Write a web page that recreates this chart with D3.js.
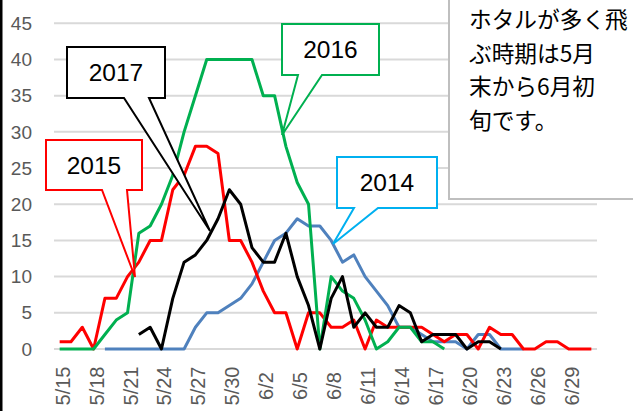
<!DOCTYPE html>
<html lang="ja">
	<head>
		<meta charset="utf-8">
		<title>ホタル</title>
		<script type="text/javascript" src="https://cdn.jsdelivr.net/npm/d3@7"></script>
		<style type="text/css">
			html, body {
				margin: 0;
				padding: 0;
				background-color: white;
			}
			svg text {
				font-family: "Liberation Sans", Arial, sans-serif;
			}
		</style>
	</head>
	<body>
		<script type="text/javascript">

			var w = 633;
			var h = 411;

			// dates 5/15 .. 7/1
			var dates = ["5/15","5/16","5/17","5/18","5/19","5/20","5/21","5/22","5/23","5/24",
				"5/25","5/26","5/27","5/28","5/29","5/30","5/31","6/1","6/2","6/3",
				"6/4","6/5","6/6","6/7","6/8","6/9","6/10","6/11","6/12","6/13",
				"6/14","6/15","6/16","6/17","6/18","6/19","6/20","6/21","6/22","6/23",
				"6/24","6/25","6/26","6/27","6/28","6/29","6/30","7/1"];

			var yTicks = [0, 5, 10, 15, 20, 25, 30, 35, 40, 45];

			var s2014 = [null,null,null,null,0,0,0,0,0,0,
				0,0,3,5,5,6,7,9,12,15,
				16,18,17,17,15,12,13,10,8,6,
				3,3,2,1,1,1,0,2,2,0,
				0,0,null,null,null,null,null,null];

			var s2015 = [1,1,3,0,7,7,10,12,15,15,
				22,24,28,28,27,15,15,12,8,5,
				5,0,5,5,3,3,4,0,4,3,
				3,3,3,2,1,2,2,0,3,2,
				2,0,0,1,1,0,0,0];

			var s2016 = [0,0,0,0,2,4,5,16,17,20,
				24,30,35,40,40,40,40,40,35,35,
				28,23,20,0,10,8,7,4,0,1,
				3,3,1,1,0,null,null,null,null,null,
				null,null,null,null,null,null,null,null];

			var s2017 = [null,null,null,null,null,null,null,2,3,0,
				7,12,13,15,18,22,20,14,12,12,
				16,10,6,0,7,10,3,5,3,3,
				6,5,1,2,2,2,0,1,1,0,
				null,null,null,null,null,null,null,null];

			var series = [
				{name: "2014", values: s2014, color: "#4f81bd"},
				{name: "2015", values: s2015, color: "#ff0000"},
				{name: "2016", values: s2016, color: "#00b050"},
				{name: "2017", values: s2017, color: "#000000"}
			];

			var noteLines = ["ホタルが多く飛", "ぶ時期は5月", "末から6月初", "旬です。"];

			var plotLeft = 54, plotRight = 597, plotTop = 23.3, plotBottom = 349;

			var svg = d3.select("body")
						.append("svg")
						.attr("width", w)
						.attr("height", h);

			var xScale = d3.scaleBand()
							.domain(dates)
							.range([plotLeft, plotRight])
							.padding(0);

			var yScale = d3.scaleLinear()
							.domain([0, 45])
							.range([plotBottom, plotTop]);

			function cx(d) {
				return xScale(d) + xScale.bandwidth() / 2;
			}

			//gridlines
			svg.append("g")
				.selectAll("line")
				.data(yTicks)
				.enter()
				.append("line")
				.attr("x1", plotLeft)
				.attr("x2", plotRight)
				.attr("y1", function(d) { return yScale(d); })
				.attr("y2", function(d) { return yScale(d); })
				.attr("stroke", "#d9d9d9")
				.attr("stroke-width", 2);

			//y labels
			svg.append("g")
				.selectAll("text")
				.data(yTicks)
				.enter()
				.append("text")
				.attr("x", 32)
				.attr("y", function(d) { return yScale(d); })
				.attr("dy", "0.35em")
				.attr("text-anchor", "end")
				.attr("font-size", 19)
				.attr("fill", "#595959")
				.text(function(d) { return d; });

			//x labels, every third day
			svg.append("g")
				.selectAll("text")
				.data(dates.filter(function(d, i) { return i % 3 === 0; }))
				.enter()
				.append("text")
				.attr("transform", function(d) {
					return "translate(" + (cx(d) + 3) + ",386) rotate(-90)";
				})
				.attr("dy", "0.35em")
				.attr("text-anchor", "middle")
				.attr("font-size", 20)
				.attr("fill", "#595959")
				.text(function(d) { return d; });

			var line = d3.line()
						.defined(function(d) { return d.v !== null; })
						.x(function(d) { return cx(d.date); })
						.y(function(d) { return yScale(d.v); });

			svg.append("g")
				.selectAll("path")
				.data(series)
				.enter()
				.append("path")
				.attr("d", function(s) {
					return line(s.values.map(function(v, i) { return {date: dates[i], v: v}; }));
				})
				.attr("fill", "none")
				.attr("stroke", function(s) { return s.color; })
				.attr("stroke-width", 3)
				.attr("stroke-linejoin", "round");

			//callouts: box, pointer base on bottom edge, tip
			var callouts = [
				{label: "2017", color: "#000000", x0: 67, y0: 47, x1: 165, y1: 98, b0: 124, b1: 149, tx: 210, ty: 231},
				{label: "2015", color: "#ff0000", x0: 46, y0: 140, x1: 142, y1: 190, b0: 102, b1: 127, tx: 135, ty: 277},
				{label: "2016", color: "#00b050", x0: 282, y0: 24, x1: 379, y1: 75, b0: 298, b1: 322, tx: 282, ty: 135},
				{label: "2014", color: "#00b0f0", x0: 337, y0: 157, x1: 437, y1: 208, b0: 354, b1: 378, tx: 333, ty: 244}
			];

			var cg = svg.append("g")
						.selectAll("g")
						.data(callouts)
						.enter()
						.append("g");

			cg.append("path")
				.attr("d", function(c) {
					return "M" + c.x0 + "," + c.y0 + "H" + c.x1 + "V" + c.y1 + "H" + c.b1 +
						"L" + c.tx + "," + c.ty + "L" + c.b0 + "," + c.y1 + "H" + c.x0 + "Z";
				})
				.attr("fill", "white")
				.attr("stroke", function(c) { return c.color; })
				.attr("stroke-width", 2);

			cg.append("text")
				.attr("x", function(c) { return (c.x0 + c.x1) / 2; })
				.attr("y", function(c) { return (c.y0 + c.y1) / 2 + 8.5; })
				.attr("text-anchor", "middle")
				.attr("font-size", 24.5)
				.attr("fill", "black")
				.text(function(c) { return c.label; });

			//note box top right
			svg.append("rect")
				.attr("x", 449)
				.attr("y", -5)
				.attr("width", 200)
				.attr("height", 204)
				.attr("fill", "white")
				.attr("stroke", "#bfbfbf")
				.attr("stroke-width", 2);

			svg.append("g")
				.selectAll("text")
				.data(noteLines)
				.enter()
				.append("text")
				.attr("x", 469)
				.attr("y", function(d, i) { return 28 + i * 33.6; })
				.attr("font-size", 22.7)
				.style("font-family", "'Noto Sans CJK JP', sans-serif")
				.attr("fill", "black")
				.text(function(d) { return d; });

			//left edge
			svg.append("rect")
				.attr("x", 0)
				.attr("y", 0)
				.attr("width", 2.5)
				.attr("height", h)
				.attr("fill", "black");

		</script>
	</body>
</html>
